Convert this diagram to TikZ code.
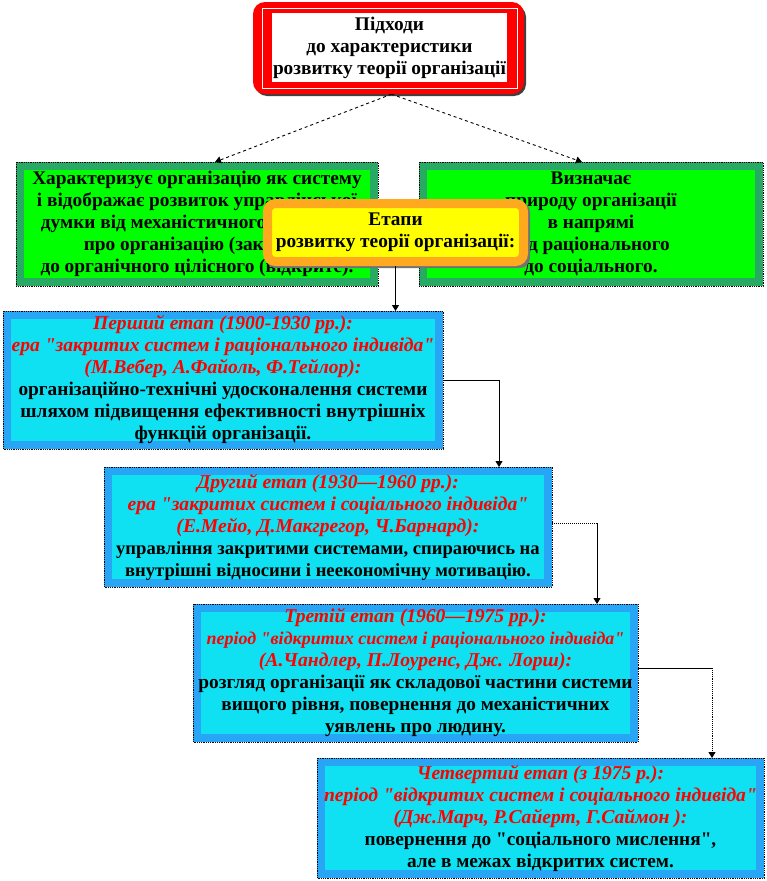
\documentclass[tikz,border=0pt]{standalone}
\usepackage{fontspec}
\setmainfont{Liberation Serif}[Ligatures=TeXOff]
\usetikzlibrary{arrows.meta}
\definecolor{redc}{RGB}{255,0,0}
\definecolor{greenin}{RGB}{0,255,0}
\definecolor{greenbd}{RGB}{40,170,100}
\definecolor{cyanin}{RGB}{15,225,242}
\definecolor{cyanbd}{RGB}{40,165,245}
\definecolor{yelin}{RGB}{255,255,0}
\definecolor{yelbd}{RGB}{255,170,30}
\definecolor{txtred}{RGB}{255,0,0}
\newcommand{\rl}[1]{{\color{txtred}\itshape\fontsize{19.6}{22}\selectfont #1}}
\newcommand{\sm}[1]{{\fontsize{18.6}{22}\selectfont #1}}
\begin{document}
\begin{tikzpicture}[x=1pt,y=-1pt,
  every node/.style={font=\bfseries\fontsize{19.3}{22}\selectfont, align=center, inner sep=0pt},
  greenbox/.style={draw=greenbd, line width=8pt, fill=greenin},
  cyanbox/.style={draw=cyanbd, line width=8pt, fill=cyanin},
  yelbox/.style={draw=yelbd, line width=9pt, fill=yelin, rounded corners=8pt},
  outline/.style={black, densely dotted, line width=0.8pt},
  conn/.style={black, line width=0.9pt, -{Triangle[length=6pt,width=7pt]}}
]
\useasboundingbox (0,0) rectangle (767,881);

% top red box
\fill[black!75, rounded corners=12pt] (255,5) rectangle (526,96);
\node[fill=redc, rounded corners=12pt, minimum width=271pt, minimum height=92pt] (top) at (388.5,48) {};
\draw[white, line width=0.8pt] ([shift={(10,7)}]top.north west) rectangle ([shift={(-7,-6)}]top.south east);
\node[fill=white, minimum width=235pt, minimum height=69pt] (topin) at (389.5,47.5)
  {Підходи\\до характеристики\\розвитку теорії організації};

% green boxes
\node[greenbox, minimum width=354pt, minimum height=116pt] (gl) at (197,224)
  {Характеризує організацію як систему\\і відображає розвиток управлінської\\думки від механістичного уявлення\\про організацію (закрите)\\до органічного цілісного (відкрите).};
\draw[outline] (gl.north west) rectangle (gl.south east);
\node[greenbox, minimum width=336pt, minimum height=116pt] (gr) at (591,224)
  {Визначає\\природу організації\\в напрямі\\від раціонального\\до соціального.};
\draw[outline] (gr.north west) rectangle (gr.south east);

\draw[conn, dashed] ([xshift=3pt]top.south) -- ([xshift=18pt]gl.north);
\draw[conn, dashed] ([xshift=3pt]top.south) -- ([xshift=-9pt]gr.north);

% yellow box
\fill[black!55, rounded corners=10pt] (266,202) rectangle (530,268);
\node[yelbox, minimum width=256pt, minimum height=58pt] (yel) at (395.5,232.5)
  {Етапи\\розвитку теорії організації:};

% stages
\node[cyanbox, minimum width=432pt, minimum height=130pt] (s1) at (223,380)
  {\rl{Перший етап (1900-1930 рр.):}\\
   \rl{ера "закритих систем і раціонального індивіда"}\\
   \rl{(М.Вебер, А.Файоль, Ф.Тейлор):}\\
   організаційно-технічні удосконалення системи\\
   шляхом підвищення ефективності внутрішніх\\
   функцій організації.};
\draw[outline] (s1.north west) rectangle (s1.south east);

\node[cyanbox, minimum width=440pt, minimum height=112pt] (s2) at (328,527)
  {\rl{Другий етап (1930—1960 рр.):}\\
   \rl{ера "закритих систем і соціального індивіда"}\\
   \rl{(Е.Мейо, Д.Макгрегор, Ч.Барнард):}\\
   \sm{управління закритими системами, спираючись на}\\
   \sm{внутрішні відносини і неекономічну мотивацію.}};
\draw[outline] (s2.north west) rectangle (s2.south east);

\node[cyanbox, minimum width=437pt, minimum height=130pt] (s3) at (415.5,673)
  {\rl{Третій етап (1960—1975 рр.):}\\
   {\color{txtred}\itshape\fontsize{18}{22}\selectfont період "відкритих систем і раціонального індивіда"}\\
   \rl{(А.Чандлер, П.Лоуренс, Дж. Лорш):}\\
   розгляд організації як складової частини системи\\
   вищого рівня, повернення до механістичних\\
   уявлень про людину.};
\draw[outline] (s3.north west) rectangle (s3.south east);

\node[cyanbox, minimum width=439pt, minimum height=112pt] (s4) at (540.5,818)
  {\rl{Четвертий етап (з 1975 р.):}\\
   \rl{період "відкритих систем і соціального індивіда"}\\
   \rl{(Дж.Марч, Р.Сайерт, Г.Саймон ):}\\
   повернення до "соціального мислення",\\
   але в межах відкритих систем.};
\draw[outline] (s4.north west) rectangle (s4.south east);

% connectors
\draw[conn] (yel.south) -- (yel.south |- s1.north);

\coordinate (c1) at (499,380);
\draw[black, line width=0.9pt] (s1.east) -- (c1);
\draw[conn] (c1) -- (c1 |- s2.north);

\coordinate (c2) at (597,523);
\draw[black, line width=1pt, densely dotted] ([yshift=4pt]s2.east) -- (c2);
\draw[conn] (c2) -- (c2 |- s3.north);

\coordinate (c3) at (712,668);
\draw[black, line width=0.9pt] ([yshift=5pt]s3.east) -- (c3);
\draw[conn, densely dotted] (c3) -- (c3 |- s4.north);
\end{tikzpicture}
\end{document}
